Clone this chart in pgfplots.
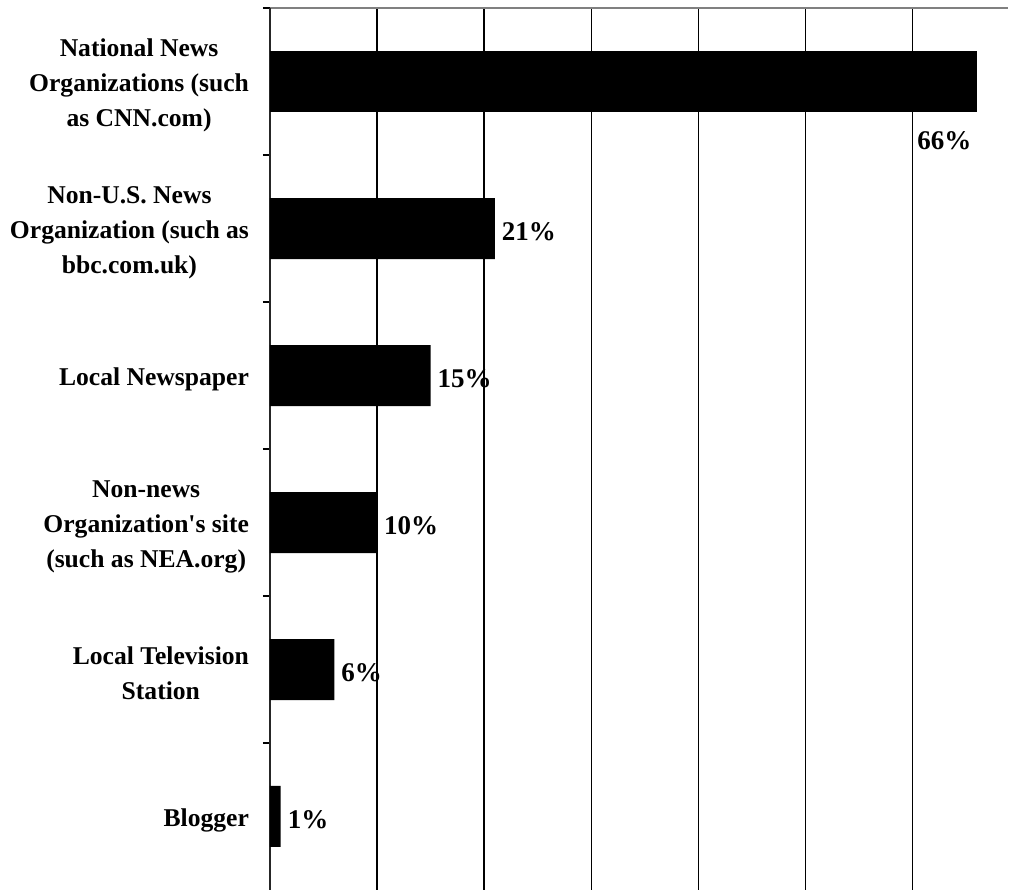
\documentclass[border=0pt]{standalone}
\usepackage{fontspec}
\setmainfont{Liberation Serif}[Ligatures=TeXOff]
\usepackage{pgfplots}
\pgfplotsset{compat=1.18}

\begin{document}
\begin{tikzpicture}
\begin{axis}[
    scale only axis,
    width=369pt, height=441pt,
    xmin=0, xmax=68.9,
    ymin=-0.5, ymax=5.5,
    axis y line*=left,
    axis x line*=top,
    y axis line style={black!85, line width=0.75pt},
    x axis line style={gray, line width=0.6pt},
    xtick={10,20,...,60},
    xticklabels={},
    xtick style={draw=none},
    xmajorgrids,
    grid style={black, line width=0.75pt},
    % category boundaries carry the ticks
    ytick={0.5,1.5,...,5.5},
    yticklabels={},
    ytick style={black, line width=0.75pt},
    tick align=outside,
    major tick length=3.5pt,
    % category names at the bar centres
    extra y ticks={0,1,2,3,4,5},
    extra y tick labels={
        Blogger,
        Local Television\\Station,
        Non-news\\Organization's site\\(such as NEA.org),
        Local Newspaper,
        Non-U.S. News\\Organization (such as\\bbc.com.uk),
        National News\\Organizations (such\\as CNN.com)},
    extra y tick style={
        tick style={draw=none},
        yticklabel style={align=center, anchor=east, xshift=-3.5pt, yshift=-2pt,
            font=\fontsize{12.8}{17.5}\selectfont\bfseries}
    },
    /pgf/number format/assume math mode=true,
    bar shift=0pt,
    bar width=30.5pt,
    point meta=x,
    clip=false
]

% all bars except the longest: label to the right
\addplot[xbar, fill=black, draw=none,
    nodes near coords={\pgfmathprintnumber[fixed,precision=0]{\pgfplotspointmeta}\%},
    every node near coord/.append style={anchor=west, xshift=0pt, yshift=-1.5pt,
        font=\fontsize{13.5}{16}\selectfont\bfseries, black}]
coordinates {(21,4) (15,3) (10,2) (6,1) (1,0)};

% longest bar: label below its end
\addplot[xbar, fill=black, draw=none,
    nodes near coords={\pgfmathprintnumber[fixed,precision=0]{\pgfplotspointmeta}\%},
    every node near coord/.append style={anchor=center, xshift=-16.25pt, yshift=-29.75pt,
        font=\fontsize{13.5}{16}\selectfont\bfseries, black}]
coordinates {(66,5)};

\end{axis}
\pgfresetboundingbox
\path (-135pt,0pt) rectangle (369.5pt,445pt);
\end{tikzpicture}
\end{document}
